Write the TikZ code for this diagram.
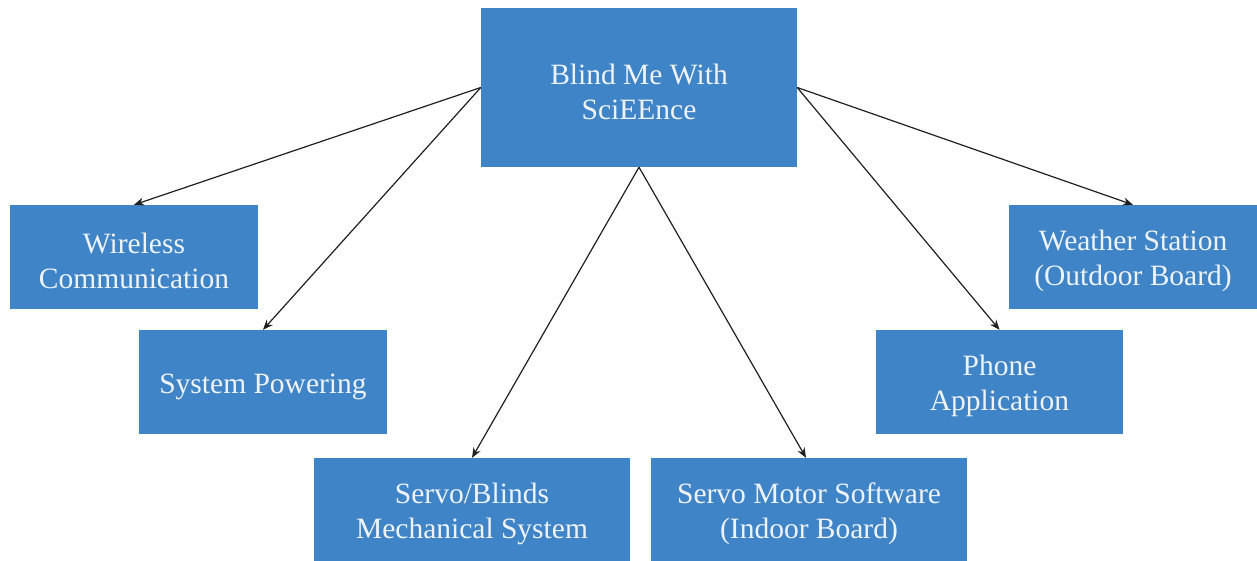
\documentclass[tikz,border=0pt]{standalone}
\usepackage{fontspec}
\setmainfont{Liberation Serif}
\usetikzlibrary{arrows.meta}
\definecolor{boxblue}{HTML}{3F84C6}
\definecolor{boxtext}{HTML}{EEF3F9}
\newcommand{\topstrut}{\rule{0pt}{28.5pt}}
\tikzset{
  block/.style={fill=boxblue, draw=none, inner sep=0pt, align=center,
    text=boxtext, font=\fontsize{29.5}{35}\selectfont},
  wide/.style={block, minimum width=316pt, minimum height=104pt},
  narrow/.style={block, minimum width=248pt, minimum height=104pt},
  link/.style={draw=black!88, line width=1.2pt,
    -{Stealth[length=10pt,width=8pt]}}
}
\begin{document}
\begin{tikzpicture}[x=1pt,y=-1pt]
  \useasboundingbox (0,0) rectangle (1257,561);
  \clip (0,0) rectangle (1257,561);

  % root of the breakdown
  \node[block, minimum width=316pt, minimum height=159pt] (root) at (639,87.5)
    {\topstrut Blind Me With\\SciEEnce};

  % subsystems
  \node[narrow] (wireless) at (134,257) {\topstrut Wireless\\Communication};
  \node[narrow] (power) at (263,382) {\topstrut System Powering};
  \node[wide] (mech) at (472,510) {\topstrut Servo/Blinds\\Mechanical System};
  \node[wide] (servo) at (809,510) {\topstrut Servo Motor Software\\(Indoor Board)};
  \node[narrow, minimum width=247pt] (phone) at (999.5,382) {\topstrut Phone\\Application};
  \node[narrow] (weather) at (1133,257) {\topstrut Weather Station\\(Outdoor Board)};

  % connectors
  \draw[link] (root.west) -- (wireless.north);
  \draw[link] (root.west) -- (power.north);
  \draw[link] (root.south) -- (mech.north);
  \draw[link] (root.south) -- ([xshift=-3pt]servo.north);
  \draw[link] (root.east) -- (phone.north);
  \draw[link] (root.east) -- (weather.north);
\end{tikzpicture}
\end{document}
